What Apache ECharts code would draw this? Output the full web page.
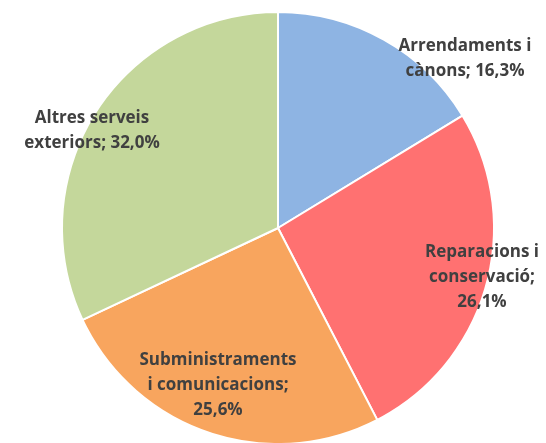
<!DOCTYPE html>
<html><head><meta charset="utf-8">
<script src="https://cdn.jsdelivr.net/npm/echarts@6/dist/echarts.min.js"></script>
<style>html,body{margin:0;padding:0;background:#fff}#c{width:546px;height:443px}</style>
</head><body><div id="c"></div>
<script>
const categories = ["Arrendaments i cànons", "Reparacions i conservació", "Subministraments i comunicacions", "Altres serveis exteriors"];
const values = [16.3, 26.1, 25.6, 32.0];
const labelTexts = ["Arrendaments i\ncànons; 16,3%", "Reparacions i\nconservació;\n26,1%", "Subministraments\ni comunicacions;\n25,6%", "Altres serveis\nexteriors; 32,0%"];
const colors = ["#8EB4E3", "#FF7171", "#F8A55E", "#C4D79B"];
const labelPos = [[465, 59], [482, 277], [218, 385], [92, 131]];

const chart = echarts.init(document.getElementById('c'), null, {renderer: 'canvas'});
chart.setOption({
  animation: false,
  series: [{
    type: 'pie',
    center: [278, 228],
    radius: 216,
    startAngle: 90,
    clockwise: true,
    data: categories.map((n, i) => ({name: n, value: values[i], itemStyle: {color: colors[i]}})),
    itemStyle: {borderColor: '#fff', borderWidth: 2},
    emphasis: {disabled: true},
    labelLine: {show: false},
    label: {
      show: true,
      position: 'inside',
      formatter: p => labelTexts[p.dataIndex],
      color: '#404040',
      fontFamily: '"Liberation Sans Narrow", "Open Sans", sans-serif',
      fontWeight: 'bold',
      fontSize: 17,
      lineHeight: 25,
      align: 'center'
    },
    labelLayout: p => ({x: labelPos[p.dataIndex][0], y: labelPos[p.dataIndex][1], align: 'center', verticalAlign: 'middle'})
  }]
});
</script></body></html>
